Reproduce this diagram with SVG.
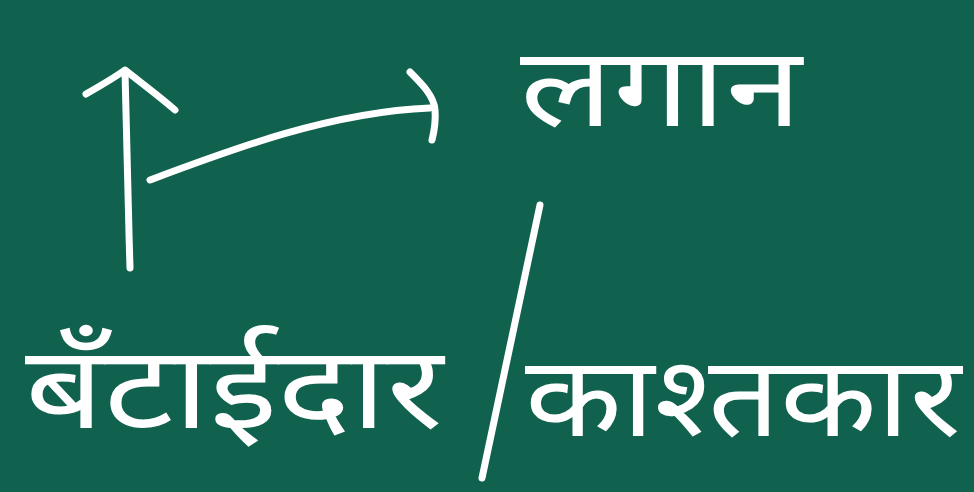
<svg xmlns="http://www.w3.org/2000/svg" width="974" height="492" viewBox="0 0 974 492">
<style>
.bg{fill:#10614d}
.ln{fill:none;stroke:#ffffff;stroke-width:7;stroke-linecap:round;stroke-linejoin:round}
.t{fill:#ffffff;font-family:"Noto Sans","DejaVu Sans",sans-serif}
</style>
<rect class="bg" x="0" y="0" width="974" height="492"/>
<g id="connectors">
<path class="ln" d="M130 268 C128 200 126 130 125 72"/>
<path class="ln" d="M86 94 C100 86 114 78 125 70 C140 82 158 95 175 110"/>
<path class="ln" d="M150 180 C230 150 330 112 430 108"/>
<path class="ln" d="M410 72 C422 84 434 96 435 110 C436 122 434 132 432 140"/>
<path class="ln" d="M540 205 L482 478"/>
</g>
<g id="lagaan">
<text class="t" x="520" y="126" font-size="110" textLength="282" lengthAdjust="spacingAndGlyphs">लगान</text>
</g>
<g id="bantaidar">
<text class="t" x="25" y="428" font-size="115" textLength="418" lengthAdjust="spacingAndGlyphs">बँटाईदार</text>
</g>
<g id="kashtkar">
<text class="t" x="525" y="436" font-size="112" textLength="436" lengthAdjust="spacingAndGlyphs">काश्तकार</text>
</g>
</svg>
